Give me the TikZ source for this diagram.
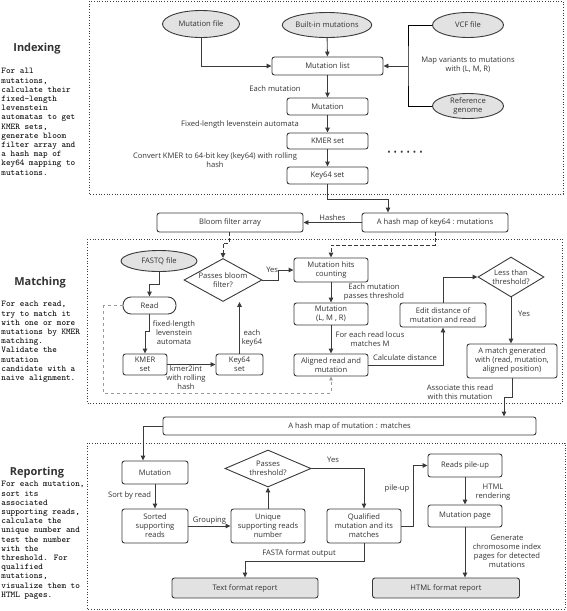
\documentclass[tikz,border=0pt]{standalone}
\usepackage{fontspec}
\setsansfont{Open Sans}
\usetikzlibrary{arrows.meta, shapes.geometric}
\definecolor{cline}{HTML}{3A3A3A}
\definecolor{cfill}{HTML}{E2E2E2}
\definecolor{ctext}{HTML}{333333}
\definecolor{cfaint}{HTML}{9A9A9A}
\tikzset{
  every picture/.style={font=\sffamily, line width=0.9pt},
  box/.style={draw=cline, fill=#1, rounded corners=2.5pt, align=center, inner sep=1pt, text=ctext,
    font=\sffamily\fontsize{7.6}{9}\selectfont},
  box/.default=white,
  src/.style={ellipse, draw=cline, fill=cfill, align=center, inner sep=0pt, text=ctext,
    font=\sffamily\fontsize{7.6}{9}\selectfont},
  test/.style={diamond, draw=cline, fill=white, aspect=1.8, inner sep=0pt, align=center, text=ctext,
    font=\sffamily\fontsize{7.6}{9}\selectfont},
  arrow/.style={-{Triangle[length=5pt, width=4.5pt]}, draw=cline, line width=0.9pt},
  link/.style={arrow, dash pattern=on 4pt off 2pt},
  faint/.style={-{Triangle[length=4pt, width=3.5pt]}, draw=cfaint, dashed, line width=0.5pt},
  note/.style={font=\sffamily\fontsize{7.6}{9}\selectfont, text=ctext, align=center, inner sep=0.5pt},
  title/.style={font=\sffamily\bfseries\fontsize{11}{13}\selectfont, text=ctext},
  blurb/.style={font=\ttfamily\fontsize{8.8}{9.2}\selectfont, align=left, anchor=north west, inner sep=0pt},
  frame/.style={draw=cline, dotted, line width=0.7pt},
}

\begin{document}
\begin{tikzpicture}[x=1pt, y=-1pt]
  \useasboundingbox (0,0) rectangle (567,611);
  % stage frames
  \draw[frame] (89,1) rectangle (563,194);
  \draw[frame] (87,239) rectangle (562,403);
  \draw[frame] (87,443) rectangle (565,609);

  % left column
  \node[title] (t-index) at (37,49) {Indexing};
  \node[blurb] (b-index) at (1,68) {For all\\mutations,\\calculate their\\fixed-length\\levenstein\\automatas to get\\KMER sets,\\generate bloom\\filter array and\\a hash map of\\key64 mapping to\\mutations.};
  \node[title] (t-match) at (40,283) {Matching};
  \node[blurb] (b-match) at (1,301) {For each read,\\try to match it\\with one or more\\mutations by KMER\\matching.\\Validate the\\mutation\\candidate with a\\naive alignment.};
  \node[title] (t-report) at (37,473) {Reporting};
  \node[blurb] (b-report) at (1,481) {For each mutation,\\sort its\\associated\\supporting reads,\\calculate the\\unique number and\\test the number\\with the\\threshold. For\\qualified\\mutations,\\visualize them to\\HTML pages.};

  % indexing
  \node[src, minimum width=77, minimum height=27] (mfile) at (201,24) {Mutation file};
  \node[src, minimum width=77, minimum height=25] (builtin) at (327,25) {Built-in mutations};
  \node[src, minimum width=71, minimum height=25] (vcf) at (468,25) {VCF file};
  \node[src, minimum width=71, minimum height=25] (refg) at (468,106) {Reference\\genome};
  \node[box, minimum width=111, minimum height=18] (mlist) at (327.5,66) {Mutation list};
  \node[box, minimum width=81, minimum height=17] (mut) at (327.5,106.5) {Mutation};
  \node[box, minimum width=81, minimum height=16] (kmerset) at (327.5,141) {KMER set};
  \node[box, minimum width=81, minimum height=17] (keyset) at (327.5,175.5) {Key64 set};
  \node[note] (mapnote) at (468,65) {Map variants to mutations\\with (L, M, R)};
  \node[note, font=\sffamily\fontsize{9}{9}\selectfont] (dots) at (405,153) {\textbullet\,\,\textbullet\,\,\textbullet\,\,\textbullet\,\,\textbullet\,\,\textbullet};
  \coordinate (vj) at (408,66);
  \draw[arrow] (mfile) |- (mlist);
  \draw[arrow] (builtin) -- (mlist);
  \draw (vcf.west) -| (vj) |- (refg.west);
  \draw[arrow] (vj) -- (mlist);
  \draw[arrow] (mlist) -- (mut);
  \node[note] (l-each) at (275,89) {Each mutation};
  \draw[arrow] (mut) -- (kmerset);
  \node[note] (l-auto) at (240,125) {Fixed-length levenstein automata};
  \draw[arrow] (kmerset) -- (keyset);
  \node[note] (l-conv) at (215,160) {Convert KMER to 64-bit key (key64) with rolling\\hash};

  % shared tables
  \node[box, minimum width=146, minimum height=19] (bloom) at (230,222.5) {Bloom filter array};
  \node[box, minimum width=146, minimum height=19] (keymap) at (435,222.5) {A hash map of key64 : mutations};
  \node[box, minimum width=373, minimum height=18] (matchmap) at (349.5,426) {A hash map of mutation : matches};
  \draw[arrow] (keyset.south) -- ++(0,14.5) -| ([xshift=-47pt]keymap.north);
  \draw[arrow] (keymap) -- (bloom) node[note, midway, above=1pt] (l-hash) {Hashes};

  % matching
  \node[src, minimum width=76, minimum height=21] (fastq) at (159,261) {FASTQ file};
  \node[box, rounded corners=8pt, minimum width=53, minimum height=17] (read) at (149.5,305.5) {Read};
  \node[box, minimum width=44, minimum height=21] (kmer) at (145,364.5) {KMER\\set};
  \node[box, minimum width=47, minimum height=21] (key) at (239.5,364.5) {Key64\\set};
  \node[test, minimum width=78, minimum height=43] (bloomtest) at (223,280) {Passes bloom\\filter?};
  \node[box, minimum width=74, minimum height=24] (hits) at (331,270) {Mutation hits\\counting};
  \node[box, minimum width=74, minimum height=22] (lmr) at (331,314) {Mutation\\(L, M , R)};
  \node[box, minimum width=74, minimum height=22] (aligned) at (331,365) {Aligned read and\\mutation};
  \node[box, minimum width=86, minimum height=24] (edit) at (443,315) {Edit distance of\\mutation and read};
  \node[test, minimum width=66, minimum height=40] (lesstest) at (511,277) {Less than\\threshold?};
  \node[box, minimum width=90, minimum height=34] (hit) at (512,361) {A match generated\\with (read, mutation,\\aligned position)};
  \draw[link] ([xshift=-1pt]bloom.south) -- ++(0,10.5) -| (bloomtest.north);
  \draw[link] (keymap.south) -- ++(0,13) -| (hits.north);
  \draw[arrow] (fastq.south) -- ++(0,12) -| (read.north);
  \draw[arrow] (read.south) -- ++(0,16.5) -| (kmer.north);
  \node[note] (l-fixed) at (174,333) {fixed-length\\levenstein\\automata};
  \draw[arrow] (kmer) -- (key);
  \node[note, anchor=north] (l-k2i) at (186,365) {kmer2int\\with rolling\\hash};
  \draw[arrow] (key.north) -- (key.north |- bloomtest.south);
  \node[note] (l-eachkey) at (252,338) {each\\key64};
  \draw[arrow] (bloomtest.east) -- ++(16,0) |- (hits.west);
  \node[note, anchor=east] (l-yes1) at (279,270) {Yes};
  \draw[arrow] (hits) -- (lmr);
  \node[note] (l-pass) at (374,292) {Each mutation\\passes threshold};
  \draw[arrow] (lmr) -- (aligned);
  \node[note] (l-locus) at (370,339) {For each read locus\\matches M};
  \draw[faint] (read.west) -- ++(-19,0) -- ++(0,87.5) -| (aligned.south);
  \draw[arrow] (aligned.east) -| (edit.south);
  \node[note] (l-calc) at (405,358) {Calculate distance};
  \draw[arrow] (edit.north) |- (lesstest.west);
  \draw[arrow] (lesstest.south) -- (lesstest.south |- hit.north);
  \node[note] (l-yes2) at (524,314) {Yes};
  \draw[arrow] (hit.south) -- ++(0,18.5) -| ([xshift=154.5pt]matchmap.north);
  \node[note] (l-assoc) at (460,392) {Associate this read\\with this mutation};

  % reporting
  \node[box, minimum width=66, minimum height=23] (rmut) at (155,472.5) {Mutation};
  \node[box, minimum width=66, minimum height=34] (sorted) at (155,526) {Sorted\\supporting\\reads};
  \node[box, minimum width=74, minimum height=34] (uniq) at (268,526) {Unique\\supporting reads\\number};
  \node[test, minimum width=86, minimum height=37] (passtest) at (268,468.5) {Passes\\threshold?};
  \node[box, minimum width=74, minimum height=34] (qual) at (364,526) {Qualified\\mutation and its\\matches};
  \node[box=cfill, minimum width=146, minimum height=20] (txtrep) at (245,588) {Text format report};
  \node[box, minimum width=74, minimum height=23] (pileup) at (465,465.5) {Reads pile-up};
  \node[box, minimum width=74, minimum height=22] (mpage) at (465,516) {Mutation page};
  \node[box=cfill, minimum width=147, minimum height=20] (htmlrep) at (446,588) {HTML format report};
  \draw[arrow] (matchmap.west) -| ([xshift=-12pt]rmut.north);
  \draw[arrow] (rmut) -- (sorted);
  \node[note, anchor=east] (l-sort) at (152,496) {Sort by read};
  \draw[arrow] (sorted) -- (uniq) node[note, midway, above=1pt] (l-group) {Grouping};
  \draw[arrow] (uniq) -- (passtest);
  \draw[arrow] (passtest.east) -| (qual.north);
  \node[note] (l-yes3) at (333,460) {Yes};
  \draw[arrow] (qual.south) -- ++(0,18) -| (txtrep.north);
  \node[note] (l-fasta) at (299,553) {FASTA format output};
  \draw[arrow] (qual.east) -- ++(12,0) |- (pileup.west);
  \node[note] (l-pile) at (397,489) {pile-up};
  \draw[arrow] (pileup) -- (mpage);
  \node[note] (l-html) at (493,492) {HTML\\rendering};
  \draw[arrow] (mpage.south) -- (mpage.south |- htmlrep.north);
  \node[note] (l-gen) at (507,551) {Generate\\chromosome index\\pages for detected\\mutations};
\end{tikzpicture}
\end{document}
